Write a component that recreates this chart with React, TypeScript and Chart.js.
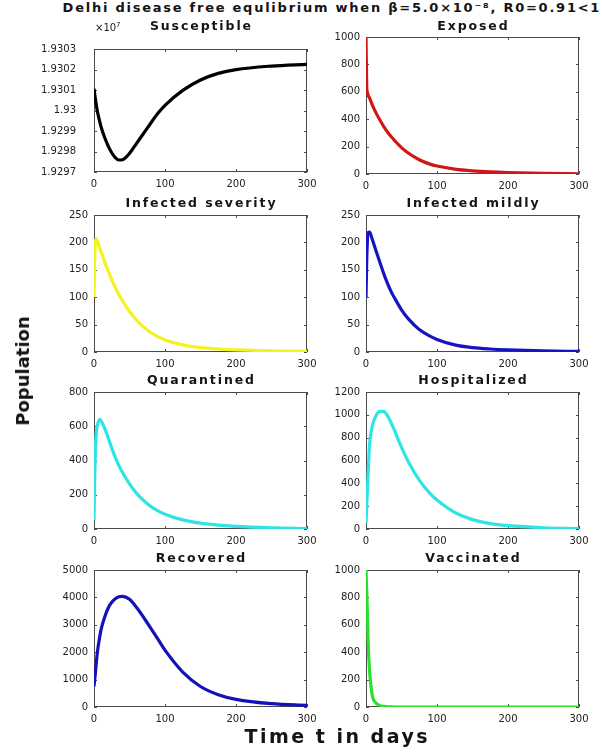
import React, { useEffect, useRef } from "react";
import { Chart, registerables } from "chart.js";

Chart.register(...registerables);

// ---- data ----
const TIME = [0, 1, 2, 3, 5, 8, 10, 15, 20, 25, 30, 35, 40, 50, 60, 75, 90, 100, 125, 150, 175, 200, 250, 300];

const SUSCEPTIBLE = [
  19301063, 19300800, 19300560, 19300330, 19299915, 19299470, 19299198, 19298680, 19298265, 19297940,
  19297700, 19297585, 19297600, 19297910, 19298400, 19299140, 19299860, 19300250, 19300980, 19301490,
  19301810, 19301996, 19302168, 19302254,
];
const EXPOSED = [1000, 640, 595, 575, 555, 515, 490, 437, 390, 346, 308, 275, 246, 193, 151, 104, 72, 58, 36, 23, 15, 10, 4, 2];
const INFECTED_SEVERE = [100, 170, 200, 207, 201, 190, 183, 164, 147, 132, 118, 105, 94, 74, 58, 40, 28, 22, 13, 8, 5.5, 4, 2, 1];
const INFECTED_MILD = [100, 165, 205, 218, 219, 209, 201, 181, 162, 143, 126, 111, 99, 77, 60, 41, 29, 23, 13, 8, 5.5, 4, 2, 1];
const QUARANTINED = [50, 300, 470, 550, 609, 640, 632, 589, 532, 472, 418, 371, 331, 264, 208, 148, 106, 86, 53, 34, 23, 15, 7, 3];
const HOSPITALIZED = [50, 200, 340, 480, 741, 875, 930, 1003, 1030, 1030, 995, 935, 866, 715, 585, 428, 312, 254, 145, 82, 47, 29, 11, 4];
const RECOVERED = [750, 1000, 1250, 1550, 2048, 2550, 2831, 3280, 3614, 3820, 3952, 4020, 4036, 3930, 3630, 3074, 2474, 2074, 1274, 749, 449, 279, 120, 60];
const VACCINATED = [1000, 850, 680, 482, 265, 110, 60, 24, 10, 4, 2, 1, 0, 0, 0, 0, 0, 0, 0, 0, 0, 0, 0, 0];

const X_MIN = 0;
const X_MAX = 300;
const X_STEP = 100;

const MAIN_TITLE = "Delhi disease free equlibrium when β=5.0×10⁻⁸, R0=0.91<1";
const X_LABEL = "Time t in days";
const Y_LABEL = "Population";

type Panel = {
  title: string;
  values: number[];
  color: string;
  yMin: number;
  yMax: number;
  yStep: number;
  labelPad: number;
  fmt?: (v: number) => string;
};

const PANELS: Panel[] = [
  { title: "Susceptible", values: SUSCEPTIBLE, color: "#000000", yMin: 19297000, yMax: 19303000, yStep: 1000, labelPad: 18,
    fmt: (v) => String(Number((v / 1e7).toFixed(4))) },
  { title: "Exposed", values: EXPOSED, color: "#d21616", yMin: 0, yMax: 1000, yStep: 200, labelPad: 6 },
  { title: "Infected severity", values: INFECTED_SEVERE, color: "#f3f322", yMin: 0, yMax: 250, yStep: 50, labelPad: 6 },
  { title: "Infected mildly", values: INFECTED_MILD, color: "#1515c2", yMin: 0, yMax: 250, yStep: 50, labelPad: 6 },
  { title: "Quarantined", values: QUARANTINED, color: "#2ee4e4", yMin: 0, yMax: 800, yStep: 200, labelPad: 6 },
  { title: "Hospitalized", values: HOSPITALIZED, color: "#2ee4e4", yMin: 0, yMax: 1200, yStep: 200, labelPad: 6 },
  { title: "Recovered", values: RECOVERED, color: "#1212b8", yMin: 0, yMax: 5000, yStep: 1000, labelPad: 6 },
  { title: "Vaccinated", values: VACCINATED, color: "#2ae02a", yMin: 0, yMax: 1000, yStep: 200, labelPad: 6 },
];

// ---- layout ----
const COL_LEFT = [94, 366];
const ROW_TOP = [35, 213, 390, 568];
const PLOT_W = 213;
const PLOT_H = 139;
const PL = 70;
const PT = 10;
const PR = 16;
const PB = 22;
const FONT = "'DejaVu Sans', sans-serif";

const boxPlugin = {
  id: "matlabBox",
  beforeDatasetsDraw(chart: any) {
    const { ctx, chartArea: a, scales } = chart;
    const tl = 3;
    ctx.save();
    ctx.strokeStyle = "#4a4a4a";
    ctx.lineWidth = 1;
    ctx.strokeRect(Math.round(a.left) + 0.5, Math.round(a.top) + 0.5, Math.round(a.right - a.left) - 1, Math.round(a.bottom - a.top) - 1);
    ctx.beginPath();
    scales.x.ticks.forEach((t: any) => {
      const px = Math.round(scales.x.getPixelForValue(t.value)) + 0.5;
      ctx.moveTo(px, a.bottom);
      ctx.lineTo(px, a.bottom - tl);
      ctx.moveTo(px, a.top);
      ctx.lineTo(px, a.top + tl);
    });
    scales.y.ticks.forEach((t: any) => {
      const py = Math.round(scales.y.getPixelForValue(t.value)) + 0.5;
      ctx.moveTo(a.left, py);
      ctx.lineTo(a.left + tl, py);
      ctx.moveTo(a.right, py);
      ctx.lineTo(a.right - tl, py);
    });
    ctx.stroke();
    ctx.restore();
  },
};

function SubPlot({ panel, left, top }: { panel: Panel; left: number; top: number }) {
  const ref = useRef<HTMLCanvasElement>(null);
  useEffect(() => {
    if (!ref.current) return;
    const chart = new Chart(ref.current, {
      type: "line",
      data: {
        datasets: [
          {
            data: TIME.map((t, i) => ({ x: t, y: panel.values[i] })),
            borderColor: panel.color,
            borderWidth: 3.2,
            pointRadius: 0,
            fill: false,
            cubicInterpolationMode: "monotone",
          },
        ],
      },
      options: {
        animation: false,
        responsive: false,
        maintainAspectRatio: false,
        layout: { padding: { left: 0, top: PT, right: PR, bottom: 0 } },
        plugins: { legend: { display: false }, tooltip: { enabled: false }, title: { display: false } },
        scales: {
          x: {
            type: "linear",
            min: X_MIN,
            max: X_MAX,
            grid: { display: false, drawTicks: false },
            border: { display: false },
            ticks: { stepSize: X_STEP, padding: 6, color: "#222222", font: { family: FONT, size: 10 }, maxRotation: 0 },
            afterFit: (s: any) => { s.height = PB; },
          },
          y: {
            type: "linear",
            min: panel.yMin,
            max: panel.yMax,
            grid: { display: false, drawTicks: false },
            border: { display: false },
            ticks: {
              stepSize: panel.yStep,
              padding: panel.labelPad,
              color: "#222222",
              font: { family: FONT, size: 10 },
              callback: (v: any) => (panel.fmt ? panel.fmt(Number(v)) : String(v)),
            },
            afterFit: (s: any) => { s.width = PL; },
          },
        },
      },
      plugins: [boxPlugin],
    } as any);
    return () => chart.destroy();
  }, [panel]);
  return (
    <canvas
      ref={ref}
      width={PL + PLOT_W + PR}
      height={PT + PLOT_H + PB}
      style={{ position: "absolute", left: left - PL, top: top - PT, width: PL + PLOT_W + PR, height: PT + PLOT_H + PB }}
    />
  );
}

function Text({ text, cx, capY, size, spacing = 0 }: { text: string; cx: number; capY: number; size: number; spacing?: number }) {
  return (
    <div
      style={{
        position: "absolute",
        left: cx - 300 + spacing / 2,
        width: 600,
        top: capY - 0.48 * size,
        textAlign: "center",
        fontFamily: FONT,
        fontWeight: "bold",
        fontSize: size,
        lineHeight: `${size}px`,
        letterSpacing: spacing,
        color: "#141414",
        whiteSpace: "nowrap",
      }}
    >
      {text}
    </div>
  );
}

export default function App() {
  return (
    <div style={{ position: "absolute", left: 0, top: 0, width: 602, height: 755, background: "#ffffff", overflow: "hidden" }}>
      <Text text={MAIN_TITLE} cx={331} capY={7.5} size={13} spacing={1.75} />
      {PANELS.map((p, i) => {
        const col = i % 2;
        const row = Math.floor(i / 2);
        const left = COL_LEFT[col];
        const top = ROW_TOP[row];
        const titleCap = [25.5, 202.5, 380, 558][row];
        return (
          <React.Fragment key={p.title}>
            <SubPlot panel={p} left={left} top={top} />
            <Text text={p.title} cx={left + PLOT_W / 2} capY={titleCap} size={12.5} spacing={1.9} />
          </React.Fragment>
        );
      })}
      <div style={{ position: "absolute", left: 95, top: 23, fontFamily: FONT, fontSize: 10, lineHeight: "10px", color: "#222222", whiteSpace: "nowrap" }}>
        ×10<span style={{ fontSize: 7, position: "relative", top: -4 }}>7</span>
      </div>
      <Text text={X_LABEL} cx={336} capY={736.5} size={19} spacing={2.5} />
      <div style={{ position: "absolute", left: 23, top: 371, width: 0, height: 0 }}>
        <div
          style={{
            position: "absolute",
            left: 0,
            top: 0,
            transform: "translate(-50%, -50%) rotate(-90deg)",
            fontFamily: FONT,
            fontWeight: "bold",
            fontSize: 18,
            lineHeight: "18px",
            color: "#141414",
            whiteSpace: "nowrap",
          }}
        >
          {Y_LABEL}
        </div>
      </div>
    </div>
  );
}
